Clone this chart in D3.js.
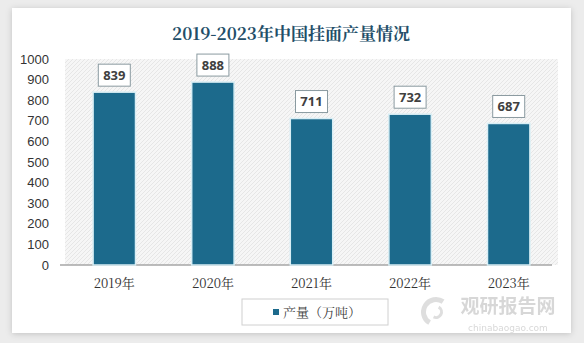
<!DOCTYPE html>
<html><head><meta charset="utf-8">
<script src="https://cdn.jsdelivr.net/npm/d3@7"></script>
<style>body{margin:0;background:#ececec;}svg{display:block;}</style>
</head><body>
<svg id="c" width="584" height="343"></svg>
<script>
const title = "2019-2023年中国挂面产量情况";
const categories = ["2019年","2020年","2021年","2022年","2023年"];
const values = [839, 888, 711, 732, 687];
const yTicks = [0,100,200,300,400,500,600,700,800,900,1000];
const seriesName = "产量（万吨）";

const svg = d3.select("#c");
const defs = svg.append("defs");
const pat = defs.append("pattern").attr("id","hatch").attr("patternUnits","userSpaceOnUse")
  .attr("width",4).attr("height",4);
pat.append("rect").attr("width",4).attr("height",4).attr("fill","#f6f6f6");
pat.append("path").attr("d","M-1,1 l2,-2 M0,4 l4,-4 M3,5 l2,-2").attr("stroke","#e6e6e6").attr("stroke-width",1);
const sh = defs.append("filter").attr("id","sh").attr("x","-5%").attr("y","-5%").attr("width","110%").attr("height","110%");
sh.append("feGaussianBlur").attr("in","SourceAlpha").attr("stdDeviation",3);
sh.append("feOffset").attr("dx",0).attr("dy",1).attr("result","b");
sh.append("feFlood").attr("flood-color","#000").attr("flood-opacity",0.18);
sh.append("feComposite").attr("in2","b").attr("operator","in");
const m = sh.append("feMerge"); m.append("feMergeNode"); m.append("feMergeNode").attr("in","SourceGraphic");

// card
svg.append("rect").attr("x",12).attr("y",8).attr("width",559).attr("height",325).attr("fill","#fff").attr("filter","url(#sh)");

svg.append("text").attr("x",291).attr("y",40).attr("text-anchor","middle")
  .attr("font-family","'Noto Serif CJK SC','Noto Sans CJK SC',serif").attr("font-weight","bold")
  .attr("font-size",17).attr("fill","#234e68").text(title);

const x = d3.scaleBand().domain(categories).range([65,558]).paddingInner(0.57).paddingOuter(0.285);
const y = d3.scaleLinear().domain([0,1000]).range([265,59]);

svg.append("rect").attr("x",65).attr("y",y(1000)).attr("width",493).attr("height",y(0)-y(1000)).attr("fill","url(#hatch)");

const ya = svg.append("g").attr("transform","translate(55,0)")
  .call(d3.axisLeft(y).tickValues(yTicks).tickFormat(d3.format("d")).tickSize(0).tickPadding(6));
ya.select(".domain").remove();
ya.selectAll("text").attr("font-family","'Liberation Sans',Arial,sans-serif").attr("font-size",13).attr("fill","#333");

svg.append("line").attr("x1",60).attr("x2",552).attr("y1",y(0)).attr("y2",y(0)).attr("stroke","#a6a6a6").attr("stroke-width",1.5);

const xa = svg.append("g").attr("transform",`translate(0,${y(0)})`)
  .call(d3.axisBottom(x).tickSize(0).tickPadding(14));
xa.select(".domain").remove();
xa.selectAll("text").attr("font-family","'Noto Serif CJK SC','Liberation Serif',serif").attr("font-size",13).attr("fill","#333");

svg.selectAll(".bar").data(values).join("rect").attr("class","bar")
  .attr("x",(d,i)=>x(categories[i])).attr("width",x.bandwidth())
  .attr("y",d=>y(d)).attr("height",d=>y(0)-y(d))
  .attr("fill","#1c6a8c").attr("stroke","#d8eef5").attr("stroke-width",1.5);

const lab = svg.selectAll(".lab").data(values).join("g").attr("class","lab")
  .attr("transform",(d,i)=>`translate(${x(categories[i])+x.bandwidth()/2},${y(d)-17})`);
lab.append("rect").attr("x",-16).attr("y",-11).attr("width",32).attr("height",22)
  .attr("fill","#fff").attr("stroke","#8a9aa0").attr("stroke-width",1);
lab.append("text").attr("text-anchor","middle").attr("dy","0.36em")
  .attr("font-family","'Open Sans','Noto Sans',sans-serif").attr("font-weight","bold").attr("font-size",13).attr("fill","#404040")
  .text(d=>d);

// watermark
const wm = svg.append("g").attr("opacity",0.55);
wm.append("text").attr("x",508).attr("y",313).attr("text-anchor","middle")
  .attr("font-family","'Noto Sans CJK SC',sans-serif").attr("font-weight","bold").attr("font-size",19).attr("fill","#b8b8b8").text("观研报告网");
wm.append("text").attr("x",508).attr("y",331).attr("text-anchor","middle")
  .attr("font-family","'DejaVu Sans',sans-serif").attr("font-size",9).attr("fill","#b8b8b8").text("chinabaogao.com");
wm.append("path").attr("d",d3.arc()({innerRadius:10,outerRadius:15,startAngle:-2.6,endAngle:0.6})).attr("transform","translate(436,312)").attr("fill","#c4c4c4");
wm.append("path").attr("d",d3.arc()({innerRadius:4,outerRadius:7,startAngle:0.5,endAngle:3.6})).attr("transform","translate(436,312)").attr("fill","#c4c4c4");

// legend
svg.append("rect").attr("x",242).attr("y",299).attr("width",146).attr("height",26).attr("fill","#fff").attr("stroke","#d0d0d0");
svg.append("rect").attr("x",273).attr("y",309).attr("width",6).attr("height",6).attr("fill","#1c6a8c");
svg.append("text").attr("x",283).attr("y",317).attr("font-family","'Noto Serif CJK SC','Noto Sans CJK SC',serif").attr("font-size",13).attr("fill","#404040").text(seriesName);
</script>
</body></html>
